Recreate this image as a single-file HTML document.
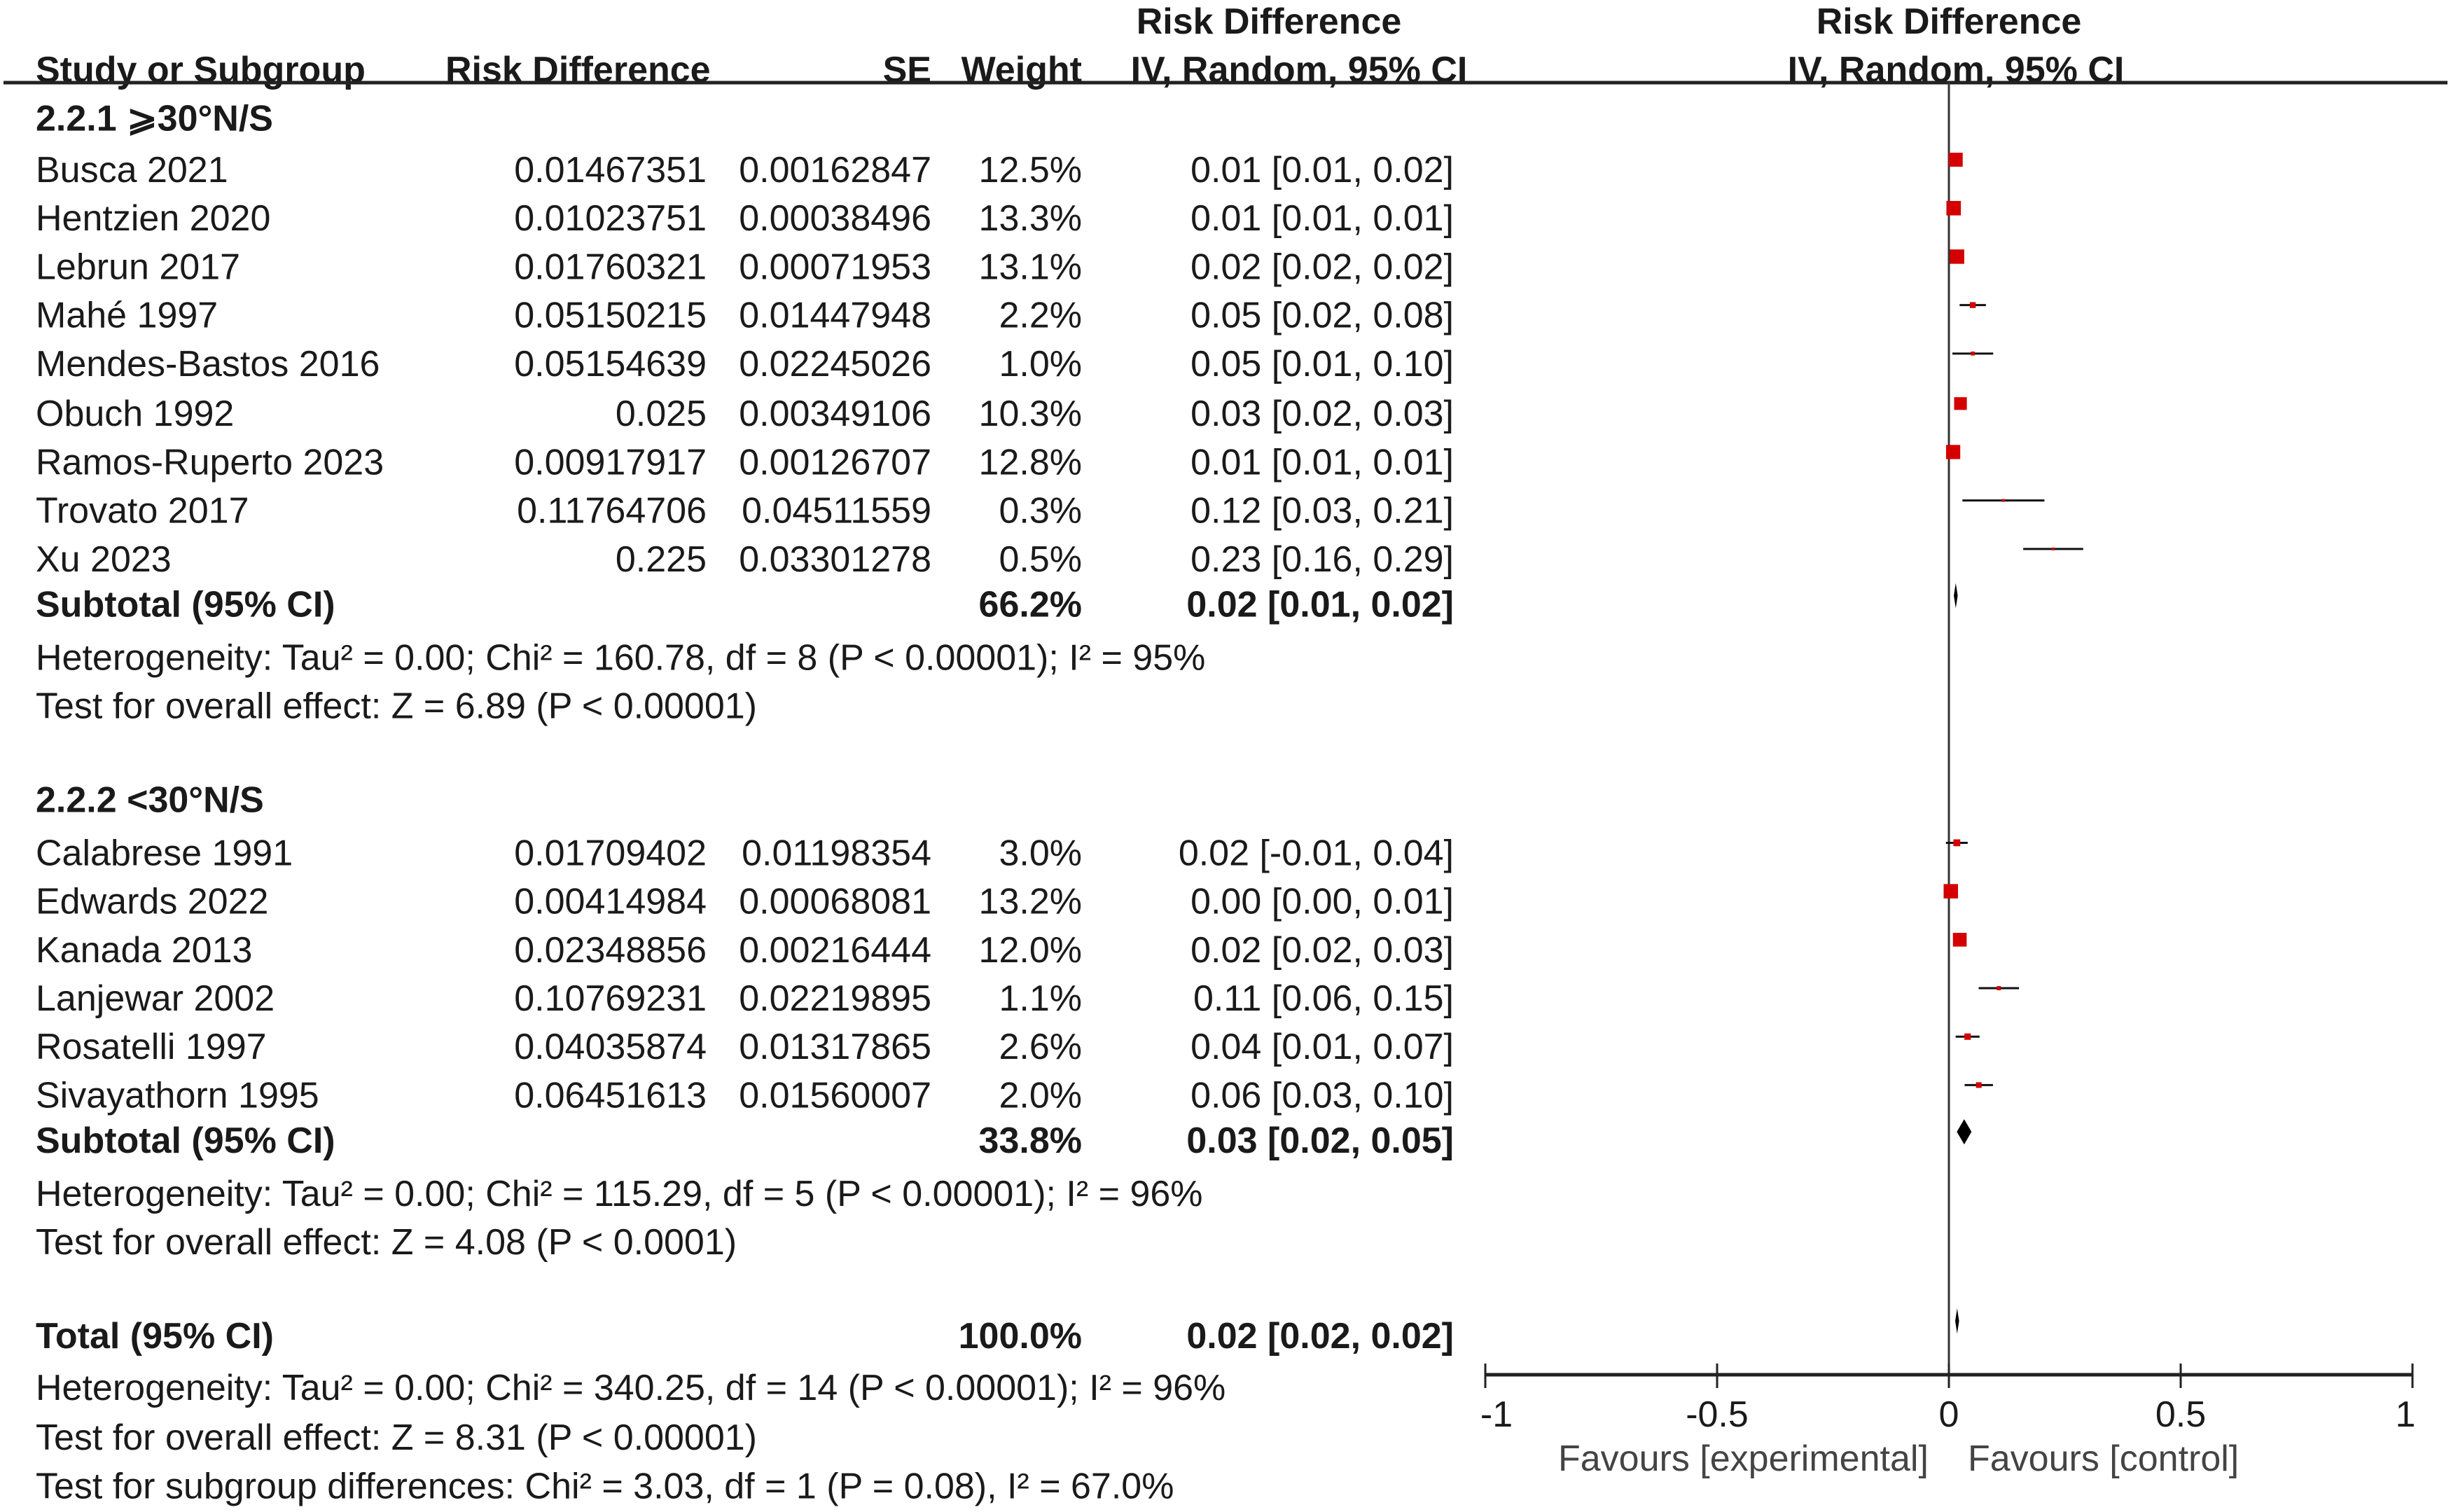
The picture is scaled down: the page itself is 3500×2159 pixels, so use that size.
<!DOCTYPE html>
<html><head><meta charset="utf-8"><style>
html,body{margin:0;padding:0;background:#fff;}
svg{display:block;}
text{font-family:"Liberation Sans",Arial,sans-serif;font-size:52px;fill:#1a1a1a;}
.b{font-weight:bold;}
</style></head><body>
<svg id="plot" width="3500" height="2159" viewBox="0 0 3500 2159" xmlns="http://www.w3.org/2000/svg"></svg>
<script>
const studies1 = ["Busca 2021","Hentzien 2020","Lebrun 2017","Mahé 1997","Mendes-Bastos 2016","Obuch 1992","Ramos-Ruperto 2023","Trovato 2017","Xu 2023"];
const rd1 = [0.01467351,0.01023751,0.01760321,0.05150215,0.05154639,0.025,0.00917917,0.11764706,0.225];
const rdText1 = ["0.01467351","0.01023751","0.01760321","0.05150215","0.05154639","0.025","0.00917917","0.11764706","0.225"];
const se1 = [0.00162847,0.00038496,0.00071953,0.01447948,0.02245026,0.00349106,0.00126707,0.04511559,0.03301278];
const w1 = [12.5,13.3,13.1,2.2,1.0,10.3,12.8,0.3,0.5];
const ci1 = ["0.01 [0.01, 0.02]","0.01 [0.01, 0.01]","0.02 [0.02, 0.02]","0.05 [0.02, 0.08]","0.05 [0.01, 0.10]","0.03 [0.02, 0.03]","0.01 [0.01, 0.01]","0.12 [0.03, 0.21]","0.23 [0.16, 0.29]"];
const studies2 = ["Calabrese 1991","Edwards 2022","Kanada 2013","Lanjewar 2002","Rosatelli 1997","Sivayathorn 1995"];
const rd2 = [0.01709402,0.00414984,0.02348856,0.10769231,0.04035874,0.06451613];
const rdText2 = ["0.01709402","0.00414984","0.02348856","0.10769231","0.04035874","0.06451613"];
const se2 = [0.01198354,0.00068081,0.00216444,0.02219895,0.01317865,0.01560007];
const w2 = [3.0,13.2,12.0,1.1,2.6,2.0];
const ci2 = ["0.02 [-0.01, 0.04]","0.00 [0.00, 0.01]","0.02 [0.02, 0.03]","0.11 [0.06, 0.15]","0.04 [0.01, 0.07]","0.06 [0.03, 0.10]"];
const pooled = [[0.0148,0.0106,0.0190],[0.0330,0.0171,0.0488],[0.0178,0.0136,0.0220]];
const ticks = [-1,-0.5,0,0.5,1];
const tickLabels = ["-1","-0.5","0","0.5","1"];

const svg = document.getElementById('plot');
const NS = "http://www.w3.org/2000/svg";
const X0 = 2783, U = 662;
const xs = v => X0 + v*U;
const S = 2.232;
const yc = c => c*S;
function el(tag, attrs, txt){
  const e = document.createElementNS(NS, tag);
  for (const k in attrs) e.setAttribute(k, attrs[k]);
  if (txt !== undefined) e.textContent = txt;
  svg.appendChild(e);
  return e;
}
function txt(s, x, c, anchor, bold, name){
  const e = el('text', {x:x, y:yc(c)+19, 'text-anchor':anchor||'start', class:bold?'b':''}, s);
  
  
  return e;
}
// headers
txt("Risk Difference", 1812, 13, 'middle', true, 'header-rd-top');
txt("Risk Difference", 2783, 13, 'middle', true, 'header-plot-top');
txt("Study or Subgroup", 51, 44, 'start', true, 'header-study');
txt("Risk Difference", 636, 44, 'start', true, 'header-rd');
txt("SE", 1330, 44, 'end', true, 'header-se');
txt("Weight", 1545, 44, 'end', true, 'header-weight');
txt("IV, Random, 95% CI", 1855, 44, 'middle', true, 'header-ci');
txt("IV, Random, 95% CI", 2793, 44, 'middle', true, 'header-plot-ci');
let hl = el('line',{x1:5,y1:118,x2:3495,y2:118,stroke:'#222','stroke-width':5});


// zero line
let zl = el('line',{x1:X0,y1:118,x2:X0,y2:1963,stroke:'#333','stroke-width':3});



function studyRows(names, rd, rdT, se, w, ci, centers){
  names.forEach((n,i)=>{
    const c = centers[i];
    txt(n, 51, c, 'start', false, 'study-name');
    txt(rdT[i], 1009, c, 'end', false, 'study-rd');
    txt(se[i].toFixed(8), 1330, c, 'end', false, 'study-se');
    txt(w[i].toFixed(1)+"%", 1545, c, 'end', false, 'study-weight');
    txt(ci[i], 2076, c, 'end', false, 'study-ci');
    const ym = yc(c) - 13;
    const lo = rd[i]-1.96*se[i], hi = rd[i]+1.96*se[i];
    const l = el('line',{x1:xs(lo),y1:ym,x2:xs(hi),y2:ym,stroke:'#111','stroke-width':3});
    
    
    const s = Math.max(4, 5.66*Math.sqrt(w[i]));
    const r = el('rect',{x:xs(rd[i])-s/2,y:ym-s/2,width:s,height:s,fill:'#d40000'});
    
    
  });
}
function diamond(p, c, name){
  const ym = yc(c) - 11, h = 18;
  const d = el('polygon',{points:`${xs(p[1])},${ym} ${xs(p[0])},${ym-h} ${xs(p[2])},${ym} ${xs(p[0])},${ym+h}`,fill:'#000'});
  
  
}
txt("2.2.1 ⩾30°N/S", 51, 75, 'start', true, 'subgroup1-title');
studyRows(studies1, rd1, rdText1, se1, w1, ci1, [108,139,170,201,232,264,295,326,357]);
txt("Subtotal (95% CI)", 51, 386, 'start', true, 'subtotal1-label');
txt("66.2%", 1545, 386, 'end', true, 'subtotal1-weight');
txt("0.02 [0.01, 0.02]", 2076, 386, 'end', true, 'subtotal1-ci');
diamond(pooled[0], 386, 'subtotal1-diamond');
txt("Heterogeneity: Tau² = 0.00; Chi² = 160.78, df = 8 (P < 0.00001); I² = 95%", 51, 420, 'start', false, 'subtotal1-heterogeneity');
txt("Test for overall effect: Z = 6.89 (P < 0.00001)", 51, 451, 'start', false, 'subtotal1-effect');

txt("2.2.2 <30°N/S", 51, 511, 'start', true, 'subgroup2-title');
studyRows(studies2, rd2, rdText2, se2, w2, ci2, [545,576,607,638,669,700]);
txt("Subtotal (95% CI)", 51, 729, 'start', true, 'subtotal2-label');
txt("33.8%", 1545, 729, 'end', true, 'subtotal2-weight');
txt("0.03 [0.02, 0.05]", 2076, 729, 'end', true, 'subtotal2-ci');
diamond(pooled[1], 729, 'subtotal2-diamond');
txt("Heterogeneity: Tau² = 0.00; Chi² = 115.29, df = 5 (P < 0.00001); I² = 96%", 51, 763, 'start', false, 'subtotal2-heterogeneity');
txt("Test for overall effect: Z = 4.08 (P < 0.0001)", 51, 794, 'start', false, 'subtotal2-effect');

txt("Total (95% CI)", 51, 854, 'start', true, 'total-label');
txt("100.0%", 1545, 854, 'end', true, 'total-weight');
txt("0.02 [0.02, 0.02]", 2076, 854, 'end', true, 'total-ci');
diamond(pooled[2], 850, 'total-diamond');
txt("Heterogeneity: Tau² = 0.00; Chi² = 340.25, df = 14 (P < 0.00001); I² = 96%", 51, 887, 'start', false, 'total-heterogeneity');
txt("Test for overall effect: Z = 8.31 (P < 0.00001)", 51, 919, 'start', false, 'total-effect');
txt("Test for subgroup differences: Chi² = 3.03, df = 1 (P = 0.08), I² = 67.0%", 51, 950, 'start', false, 'subgroup-differences');

// x axis
const ax = el('line',{x1:xs(-1),y1:1963,x2:xs(1),y2:1963,stroke:'#222','stroke-width':5});


ticks.forEach((t,i)=>{
  const tk = el('line',{x1:xs(t),y1:1947,x2:xs(t),y2:1982,stroke:'#222','stroke-width':3});
  
  
  const tl = el('text',{x:xs(t)+(i===0?16:(i===4?-10:0)),y:2037,'text-anchor':'middle'}, tickLabels[i]);
  
  
});
let f1 = el('text',{x:2225,y:2100,'text-anchor':'start',style:'fill:#444'},"Favours [experimental]");


let f2 = el('text',{x:2810,y:2100,'text-anchor':'start',style:'fill:#444'},"Favours [control]");


</script>
</body></html>
